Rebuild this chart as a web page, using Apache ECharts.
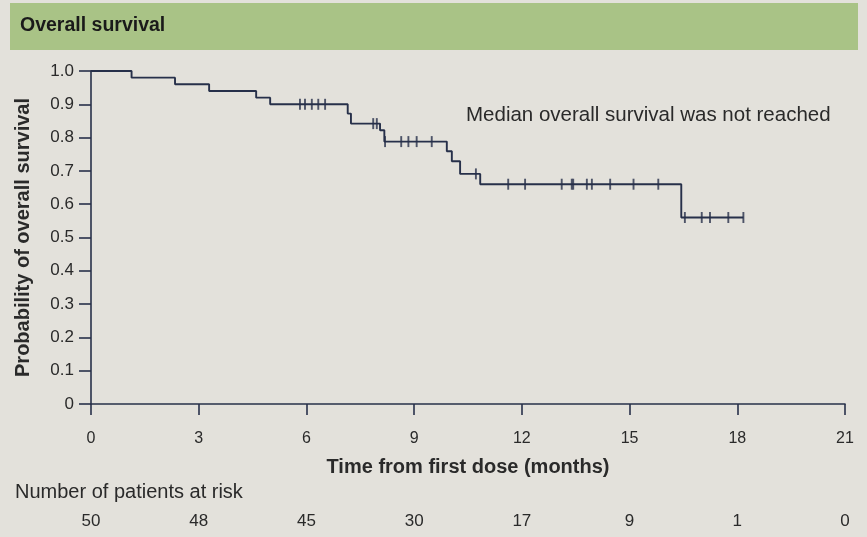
<!DOCTYPE html>
<html>
<head>
    <meta charset="UTF-8">
    <title>Overall survival</title>
    <style>
        body, html {
            margin: 0;
            padding: 0;
            width: 100%;
            height: 100%;
            background: #e3e1db;
        }
        #container {
            width: 867px;
            height: 537px;
        }
    </style>
</head>
<body>
<div id="container"></div>

<script src="https://cdn.jsdelivr.net/npm/echarts@6/dist/echarts.min.js"></script>
<script>
    // Kaplan-Meier steps: time (months) where survival drops, and the new value
    var stepTimes = [1.13, 2.34, 3.29, 4.6, 4.99, 7.15, 7.24, 8.05, 8.17, 9.91, 10.05, 10.28, 10.84, 16.44];
    var stepValues = [0.98, 0.96, 0.94, 0.92, 0.90, 0.872, 0.842, 0.822, 0.788, 0.759, 0.729, 0.691, 0.66, 0.56];
    var lastTime = 18.17;
    // censored patients (months)
    var censorTimes = [5.82, 5.96, 6.15, 6.33, 6.52, 7.86, 7.96, 8.19, 8.64, 8.84, 9.07, 9.49, 10.72,
        11.62, 12.09, 13.11, 13.39, 13.43, 13.81, 13.95, 14.46, 15.11, 15.8,
        16.54, 17.01, 17.24, 17.75, 18.17];
    var xTicks = [0, 3, 6, 9, 12, 15, 18, 21];
    var atRisk = [50, 48, 45, 30, 17, 9, 1, 0];

    var lineColor = '#27304a';
    var textColor = '#2a2a2a';

    function survivalAt(t) {
        var v = 1;
        for (var i = 0; i < stepTimes.length; i++) {
            if (stepTimes[i] <= t) v = stepValues[i];
        }
        return v;
    }

    var curve = [[0, 1]];
    for (var i = 0; i < stepTimes.length; i++) {
        curve.push([stepTimes[i], stepValues[i]]);
    }
    curve.push([lastTime, stepValues[stepValues.length - 1]]);

    var censors = censorTimes.map(function (t) { return [t, survivalAt(t)]; });

    var chart = echarts.init(document.getElementById('container'));
    var font = 'Liberation Sans, Arial, sans-serif';

    var option = {
        backgroundColor: '#e3e1db',
        animation: false,
        textStyle: {fontFamily: font},
        graphic: [
            {
                type: 'rect',
                shape: {x: 10, y: 3, width: 848, height: 47},
                style: {fill: '#a9c386'},
                z: 0
            },
            {
                type: 'text',
                left: 20, top: 16,
                style: {text: 'Overall survival', fontSize: 19.5, fontWeight: 'bold', fill: '#1a1a1a', fontFamily: font}
            },
            {
                type: 'text',
                left: 466, top: 105,
                style: {text: 'Median overall survival was not reached', fontSize: 20.5, fill: textColor, fontFamily: font}
            },
            {
                type: 'text',
                left: 15, top: 482,
                style: {text: 'Number of patients at risk', fontSize: 20, fill: textColor, fontFamily: font}
            }
        ],
        grid: {left: 91, right: 22, top: 71, bottom: 133},
        xAxis: [{
            type: 'value',
            min: 0, max: 21, interval: 3,
            name: 'Time from first dose (months)',
            nameLocation: 'middle',
            nameGap: 53,
            nameTextStyle: {fontSize: 20, fontWeight: 'bold', color: textColor},
            axisLine: {onZero: false, lineStyle: {color: lineColor, width: 1.6}},
            axisTick: {length: 11, lineStyle: {color: lineColor, width: 1.6}},
            axisLabel: {fontSize: 16, color: textColor, margin: 27},
            splitLine: {show: false}
        }, {
            type: 'value',
            position: 'bottom',
            offset: 109,
            min: 0, max: 21, interval: 3,
            axisLine: {show: false},
            axisTick: {show: false},
            axisLabel: {
                fontSize: 17, color: textColor, margin: 0,
                formatter: function (v) { return atRisk[xTicks.indexOf(v)]; }
            },
            splitLine: {show: false}
        }],
        yAxis: {
            type: 'value',
            min: 0, max: 1, interval: 0.1,
            name: 'Probability of overall survival',
            nameLocation: 'middle',
            nameGap: 58,
            nameTextStyle: {fontSize: 20, fontWeight: 'bold', color: textColor},
            axisLine: {show: true, lineStyle: {color: lineColor, width: 1.6}},
            axisTick: {show: true, length: 12, lineStyle: {color: lineColor, width: 1.6}},
            axisLabel: {
                fontSize: 17, color: textColor, margin: 17,
                formatter: function (v) { return v === 0 ? '0' : v.toFixed(1); }
            },
            splitLine: {show: false}
        },
        series: [{
            type: 'line',
            step: 'end',
            data: curve,
            showSymbol: false,
            lineStyle: {color: lineColor, width: 1.9},
            z: 3
        }, {
            type: 'scatter',
            data: censors,
            symbol: 'rect',
            symbolSize: [1.9, 11],
            itemStyle: {color: lineColor},
            z: 4
        }]
    };

    chart.setOption(option);
</script>
</body>
</html>
